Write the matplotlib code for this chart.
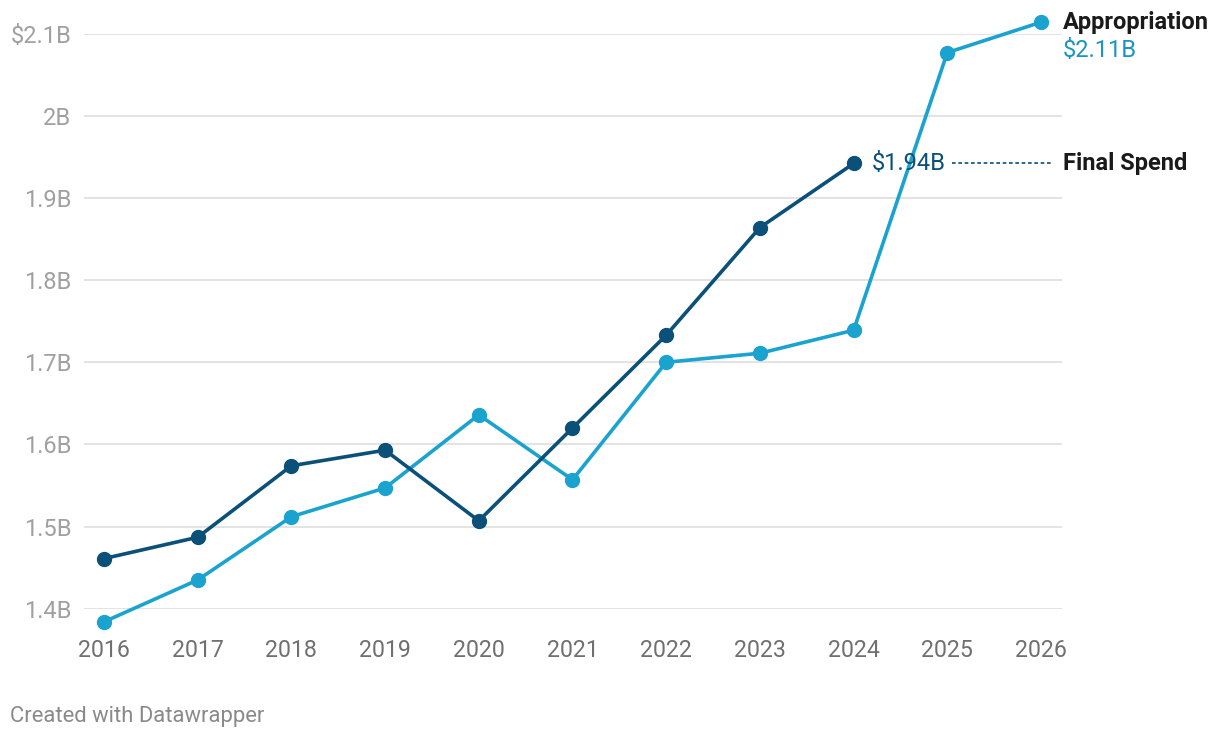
import matplotlib
matplotlib.use("Agg")
import matplotlib.pyplot as plt

years = [2016, 2017, 2018, 2019, 2020, 2021, 2022, 2023, 2024, 2025, 2026]
final_years = years[:9]
final_spend = [1.461, 1.487, 1.574, 1.593, 1.507, 1.620, 1.733, 1.864, 1.942]
appropriation = [1.384, 1.435, 1.512, 1.547, 1.636, 1.557, 1.700, 1.711, 1.739, 2.077, 2.114]
yticks = [1.4, 1.5, 1.6, 1.7, 1.8, 1.9, 2.0, 2.1]
ytick_labels = ["1.4B", "1.5B", "1.6B", "1.7B", "1.8B", "1.9B", "2B", "$2.1B"]

DARK = "#0a5078"
LIGHT = "#1ba3cf"

plt.rcParams['font.family'] = ['Roboto', 'DejaVu Sans']

W, H = 1220, 738
fig = plt.figure(figsize=(W / 100, H / 100), dpi=100)
left, right = 84 / W, 1062 / W
bottom, top = (H - 608.7) / H, (H - 33.7) / H
ax = fig.add_axes([left, bottom, right - left, top - bottom])

px_per_year = (1041 - 104) / 10
ax.set_xlim(2016 - 20 / px_per_year, 2026 + 21 / px_per_year)
ax.set_ylim(1.4, 2.1)

for s in ax.spines.values():
    s.set_visible(False)
ax.set_yticks(yticks)
ax.set_yticklabels(ytick_labels)
ax.set_xticks(years)
ax.set_xticklabels([str(y) for y in years])
ax.tick_params(axis='y', length=0, pad=9, labelsize=17, labelcolor="#a0a0a0")
ax.tick_params(axis='x', length=0, pad=22, labelsize=16.7, labelcolor="#707070")
ax.grid(axis='y', color="#e3e3e3", linewidth=1.4)
ax.set_axisbelow(True)

ax.plot(years, appropriation, color=LIGHT, linewidth=2.6, marker='o',
        markersize=10, clip_on=False, zorder=3)
ax.plot(final_years, final_spend, color=DARK, linewidth=2.6, marker='o',
        markersize=10, clip_on=False, zorder=4)

FS = 17
ax.annotate("Appropriation", xy=(years[-1], appropriation[-1]), xytext=(15.5, 0),
            textcoords='offset points', va='center', ha='left', fontsize=FS,
            fontweight='bold', color="#1a1a1a", annotation_clip=False)
ax.annotate(f"${appropriation[-1]:.2f}B", xy=(years[-1], appropriation[-1]), xytext=(15.5, -20.5),
            textcoords='offset points', va='center', ha='left', fontsize=FS,
            color="#1b95c0", annotation_clip=False)
ax.annotate(f"${final_spend[-1]:.2f}B", xy=(final_years[-1], final_spend[-1]), xytext=(13, 0),
            textcoords='offset points', va='center', ha='left', fontsize=FS,
            color=DARK, annotation_clip=False)
ax.annotate("Final Spend", xy=(years[-1], final_spend[-1]), xytext=(15.5, 0),
            textcoords='offset points', va='center', ha='left', fontsize=FS,
            fontweight='bold', color="#1a1a1a", annotation_clip=False)
x0 = 2016 + (952 - 104) / px_per_year
x1 = 2016 + (1052 - 104) / px_per_year
ax.plot([x0, x1], [final_spend[-1], final_spend[-1]], color=DARK, linewidth=1.2,
        linestyle=(0, (2.2, 1.6)), clip_on=False, zorder=2)

fig.text(10 / W, 1 - 716.5 / H, "Created with Datawrapper", fontsize=15.8,
         color="#8a8a8a", va='center', ha='left')

fig.savefig("out.png", dpi=100, facecolor="white")
